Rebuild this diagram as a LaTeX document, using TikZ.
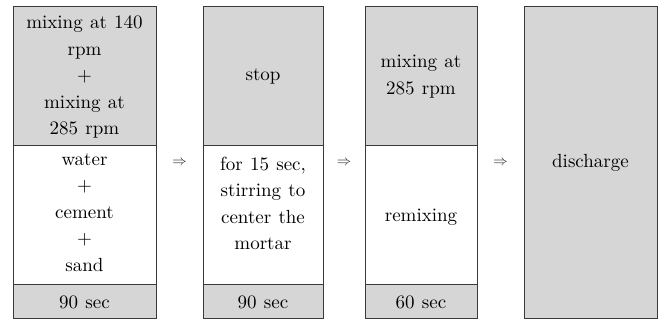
\documentclass[tikz,border=0pt]{standalone}
\usepackage{fontspec}
\newfontfamily\cellfont{lmroman10-regular}[Extension=.otf,WordSpace=1.15]
\definecolor{cellgray}{HTML}{D6D6D6}
\definecolor{edge}{HTML}{3A3A3A}
\tikzset{
  cell/.style={draw=edge, line width=0.8pt, inner sep=0pt, minimum width=#1},
  gcell/.style={cell=#1, fill=cellgray},
  wcell/.style={cell=#1, fill=white},
  txt/.style={align=center, inner sep=0pt, text=black, font=\cellfont\fontsize{19}{26.5}\selectfont},
  arr/.style={inner sep=0pt, text=black!85, font=\fontsize{13.5}{14}\selectfont}
}
\begin{document}
\begin{tikzpicture}[x=1pt,y=-1pt]
\useasboundingbox (0,0) rectangle (664,320);
% column 1
\node[gcell=143pt, minimum height=138.5pt] (c1a) at (84.5,75.75) {};
\node[wcell=143pt, minimum height=139pt] (c1b) at (84.5,214.5) {};
\node[gcell=143pt, minimum height=34.5pt] (c1c) at (84.5,301.25) {};
% column 2
\node[gcell=120pt, minimum height=138.5pt] (c2a) at (263,75.75) {};
\node[wcell=120pt, minimum height=139pt] (c2b) at (263,214.5) {};
\node[gcell=120pt, minimum height=34.5pt] (c2c) at (263,301.25) {};
% column 3
\node[gcell=112pt, minimum height=138.5pt] (c3a) at (421,75.75) {};
\node[wcell=112pt, minimum height=139pt] (c3b) at (421,214.5) {};
\node[gcell=112pt, minimum height=34.5pt] (c3c) at (421,301.25) {};
% column 4
\node[gcell=133pt, minimum height=312pt] (c4) at (590.5,162.5) {};
% texts
\node[txt] (t1a) at (84.5,77) {mixing at 140\\rpm\\+\\mixing at\\285 rpm};
\node[txt] (t1b) at (84.5,212.5) {water\\+\\cement\\+\\sand};
\node[txt] (t1c) at (84.5,302) {90 sec};
\node[txt] (t2a) at (263,77) {stop};
\node[txt] (t2b) at (263,203.5) {for 15 sec,\\stirring to\\center the\\mortar};
\node[txt] (t2c) at (263,302) {90 sec};
\node[txt] (t3a) at (421,76.5) {mixing at\\285 rpm};
\node[txt] (t3b) at (421,217) {remixing};
\node[txt] (t3c) at (421,302) {60 sec};
\node[txt] (t4) at (590.5,163) {discharge};
% arrows
\node[arr] (a1) at (179.5,163) {$\Rightarrow$};
\node[arr] (a2) at (344,163) {$\Rightarrow$};
\node[arr] (a3) at (500.5,163) {$\Rightarrow$};
\end{tikzpicture}
\end{document}
